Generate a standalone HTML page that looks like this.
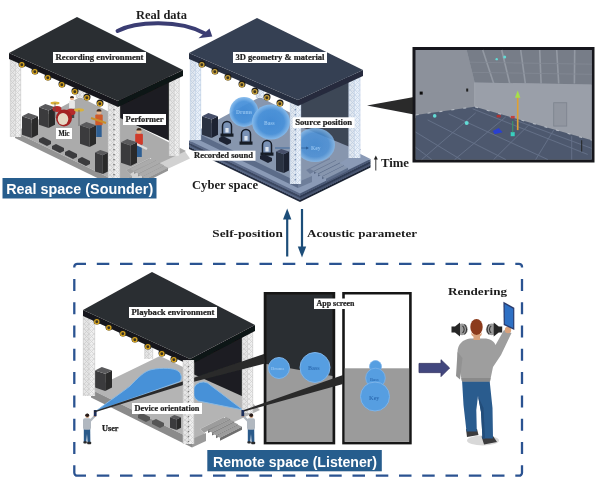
<!DOCTYPE html><html><head><meta charset="utf-8"><style>html,body{margin:0;padding:0;background:#fff}svg{display:block}</style></head><body>
<svg width="600" height="481" viewBox="0 0 600 481" font-family="'Liberation Serif', serif">
<defs>
<pattern id="tr1" width="5" height="5" patternUnits="userSpaceOnUse">
<rect width="5" height="5" fill="#efefef"/>
<path d="M0 0L5 5M5 0L0 5" stroke="#d3d3d3" stroke-width="0.8"/>
<path d="M0 0H5" stroke="#dcdcdc" stroke-width="0.8"/>
</pattern>
<pattern id="tr2" width="5" height="5" patternUnits="userSpaceOnUse">
<rect width="5" height="5" fill="#e9f0f9"/>
<path d="M0 0L5 5M5 0L0 5" stroke="#c6d5e8" stroke-width="0.8"/>
<path d="M0 0H5" stroke="#d0dcec" stroke-width="0.8"/>
</pattern>
<radialGradient id="bub" cx="50%" cy="50%" r="50%"><stop offset="0" stop-color="#3f8ad6"/><stop offset="0.7" stop-color="#4a92da"/><stop offset="1" stop-color="#86bbec"/></radialGradient>
<filter id="soft" x="-5%" y="-5%" width="110%" height="110%"><feGaussianBlur stdDeviation="0.45"/></filter>
</defs>
<rect width="600" height="481" fill="#fff"/>
<g filter="url(#soft)">
<g>
<polygon points="118.0,192.0 190.0,158.5 184.0,150.0 118.0,172.0" fill="#d2d2d2" />
<polygon points="15.0,132.0 80.0,97.0 186.0,151.0 160.0,163.0 150.0,158.0 126.0,170.0 132.0,176.0 118.0,182.0" fill="#ababab" />
<polygon points="15.0,132.0 118.0,182.0 118.0,188.0 15.0,138.0" fill="#949494" />
<polygon points="118.0,182.0 132.0,176.0 132.0,182.0 118.0,188.0" fill="#9f9f9f" />
<polygon points="126.0,170.0 150.0,158.0 150.0,162.0 130.0,174.0" fill="#9f9f9f" />
<polygon points="130.0,169.0 152.0,158.0 156.0,160.0 134.0,171.0" fill="#ababab" />
<polygon points="134.0,171.0 156.0,160.0 156.0,163.0 134.0,174.0" fill="#949494" />
<polygon points="134.0,171.6 156.0,160.6 160.0,162.6 138.0,173.6" fill="#ababab" />
<polygon points="138.0,173.6 160.0,162.6 160.0,165.6 138.0,176.6" fill="#949494" />
<polygon points="138.0,174.2 160.0,163.2 164.0,165.2 142.0,176.2" fill="#ababab" />
<polygon points="142.0,176.2 164.0,165.2 164.0,168.2 142.0,179.2" fill="#949494" />
<polygon points="142.0,176.8 164.0,165.8 168.0,167.8 146.0,178.8" fill="#ababab" />
<polygon points="146.0,178.8 168.0,167.8 168.0,170.8 146.0,181.8" fill="#949494" />
<rect x="76" y="40" width="8" height="58" fill="url(#tr1)"/><rect x="76" y="40" width="4.0" height="58" fill="#000" opacity="0.035"/><path d="M76.3 40V98M83.7 40V98M80.0 40V98" stroke="#cfcfcf" stroke-width="0.7" fill="none"/>
<polygon points="119.0,100.0 170.0,76.0 170.0,141.0 119.0,117.5" fill="#1d1f21" />
<polygon points="39.0,107.2 48.6,110.4 48.6,128.0 39.0,124.8" fill="#3b3b3d" /><polygon points="48.6,110.4 55.0,107.2 55.0,124.8 48.6,128.0" fill="#2a2a2c" /><polygon points="39.0,107.2 45.4,104.0 55.0,107.2 48.6,110.4" fill="#5a5a5c" />
<polygon points="22.0,116.2 31.6,119.4 31.6,138.0 22.0,134.8" fill="#3b3b3d" /><polygon points="31.6,119.4 38.0,116.2 38.0,134.8 31.6,138.0" fill="#2a2a2c" /><polygon points="22.0,116.2 28.4,113.0 38.0,116.2 31.6,119.4" fill="#5a5a5c" />
<rect x="69.8" y="108.1" width="4.4" height="9.9" fill="#444"/><rect x="69.1" y="100.4" width="5.8" height="8.4" rx="1" fill="#e8e8e8"/><circle cx="72" cy="98.2" r="2.0" fill="#e8b48c"/><path d="M70.0 98.0 a2.0 2.0 0 0 1 4.0 0z" fill="#3a2a20"/>
<ellipse cx="57" cy="109" rx="4.500" ry="3" fill="#b52b2b"/><ellipse cx="71" cy="112" rx="4.500" ry="3.200" fill="#b52b2b"/>
<ellipse cx="64" cy="118" rx="8" ry="8.500" fill="#a32020"/><ellipse cx="63" cy="119" rx="5.300" ry="6" fill="#e6d8c4"/>
<ellipse cx="79" cy="110" rx="5" ry="1.700" fill="#d9b13a"/><ellipse cx="55" cy="103" rx="4.500" ry="1.500" fill="#d9b13a"/>
<path d="M79 110V126M55 103V118" stroke="#555" stroke-width="0.7"/>
<rect x="96.2" y="124.4" width="5.5" height="12.6" fill="#2f5f93"/><rect x="95.3" y="114.6" width="7.4" height="10.6" rx="1" fill="#cf5a2a"/><circle cx="99" cy="111.8" r="2.5" fill="#e8b48c"/><path d="M96.5 111.5 a2.5 2.5 0 0 1 5.0 0z" fill="#3a2a20"/>
<path d="M91 118L106 123" stroke="#c98f2a" stroke-width="2"/>
<polygon points="80.0,125.2 89.6,128.4 89.6,147.0 80.0,143.8" fill="#3b3b3d" /><polygon points="89.6,128.4 96.0,125.2 96.0,143.8 89.6,147.0" fill="#2a2a2c" /><polygon points="80.0,125.2 86.4,122.0 96.0,125.2 89.6,128.4" fill="#5a5a5c" />
<polygon points="39.0,139.0 43.0,137.0 51.0,141.0 51.0,144.0 47.0,146.0 39.0,142.0" fill="#3a3a3c" />
<polygon points="52.0,146.0 56.0,144.0 64.0,148.0 64.0,151.0 60.0,153.0 52.0,149.0" fill="#3a3a3c" />
<polygon points="65.0,152.0 69.0,150.0 77.0,154.0 77.0,157.0 73.0,159.0 65.0,155.0" fill="#3a3a3c" />
<polygon points="78.0,159.0 82.0,157.0 90.0,161.0 90.0,164.0 86.0,166.0 78.0,162.0" fill="#3a3a3c" />
<polygon points="95.0,152.6 102.8,155.2 102.8,174.0 95.0,171.4" fill="#3b3b3d" /><polygon points="102.8,155.2 108.0,152.6 108.0,171.4 102.8,174.0" fill="#2a2a2c" /><polygon points="95.0,152.6 100.2,150.0 108.0,152.6 102.8,155.2" fill="#5a5a5c" />
<rect x="136.1" y="143.9" width="5.7" height="13.1" fill="#2f5f93"/><rect x="135.2" y="133.8" width="7.7" height="11.0" rx="1" fill="#d03a2a"/><circle cx="139" cy="130.9" r="2.6" fill="#e8b48c"/><path d="M136.4 130.6 a2.6 2.6 0 0 1 5.2 0z" fill="#3a2a20"/>
<path d="M128 140L147 149" stroke="#ddd" stroke-width="2.2"/>
<polygon points="121.0,142.2 130.6,145.4 130.6,166.0 121.0,162.8" fill="#3b3b3d" /><polygon points="130.6,145.4 137.0,142.2 137.0,162.8 130.6,166.0" fill="#2a2a2c" /><polygon points="121.0,142.2 127.4,139.0 137.0,142.2 130.6,145.4" fill="#5a5a5c" />
<rect x="10" y="56" width="11" height="81" fill="url(#tr1)"/><rect x="10" y="56" width="5.5" height="81" fill="#000" opacity="0.035"/><path d="M10.3 56V137M20.7 56V137M15.5 56V137" stroke="#cfcfcf" stroke-width="0.7" fill="none"/>
<rect x="169" y="74" width="10.5" height="82" fill="url(#tr1)"/><rect x="169" y="74" width="5.25" height="82" fill="#000" opacity="0.035"/><path d="M169.3 74V156M179.2 74V156M174.25 74V156" stroke="#cfcfcf" stroke-width="0.7" fill="none"/>
<rect x="108" y="103" width="12" height="78" fill="url(#tr1)"/><rect x="108" y="103" width="6.0" height="78" fill="#000" opacity="0.035"/><path d="M108.3 103V181M119.7 103V181M114.0 103V181" stroke="#cfcfcf" stroke-width="0.7" fill="none"/><path d="M114.0 109V179" stroke="#7a7a7a" stroke-width="1.5" stroke-dasharray="1.3 3.7" fill="none"/>
<polygon points="9.0,53.0 118.0,101.0 118.0,107.0 9.0,59.0" fill="#17191b" />
<polygon points="118.0,101.0 183.0,70.0 183.0,76.0 118.0,107.0" fill="#101214" />
<polygon points="9.0,53.0 77.0,17.0 183.0,70.0 118.0,101.0" fill="#2a2d30" />
<circle cx="22" cy="64" r="3.5" fill="#1c1c1c"/><circle cx="21.8" cy="64.7" r="2.1" fill="#3a3424" stroke="#d8a520" stroke-width="1.3"/>
<circle cx="35" cy="71" r="3.5" fill="#1c1c1c"/><circle cx="34.8" cy="71.7" r="2.1" fill="#3a3424" stroke="#d8a520" stroke-width="1.3"/>
<circle cx="48" cy="77" r="3.5" fill="#1c1c1c"/><circle cx="47.8" cy="77.7" r="2.1" fill="#3a3424" stroke="#d8a520" stroke-width="1.3"/>
<circle cx="62" cy="84" r="3.5" fill="#1c1c1c"/><circle cx="61.8" cy="84.7" r="2.1" fill="#3a3424" stroke="#d8a520" stroke-width="1.3"/>
<circle cx="75" cy="91" r="3.5" fill="#1c1c1c"/><circle cx="74.8" cy="91.7" r="2.1" fill="#3a3424" stroke="#d8a520" stroke-width="1.3"/>
<circle cx="87" cy="97" r="3.5" fill="#1c1c1c"/><circle cx="86.8" cy="97.7" r="2.1" fill="#3a3424" stroke="#d8a520" stroke-width="1.3"/>
<circle cx="100" cy="103" r="3.5" fill="#1c1c1c"/><circle cx="99.8" cy="103.7" r="2.1" fill="#3a3424" stroke="#d8a520" stroke-width="1.3"/>
<rect x="53" y="52" width="93" height="11" fill="#fff"/><text x="55.5" y="60.1" font-size="7.4" font-weight="bold" fill="#222" stroke="#222" stroke-width="0.2" textLength="88.0" lengthAdjust="spacingAndGlyphs">Recording environment</text>
<rect x="56" y="128" width="16" height="11" fill="#fff"/><text x="58.5" y="136.1" font-size="7.4" font-weight="bold" fill="#222" stroke="#222" stroke-width="0.2" textLength="11.0" lengthAdjust="spacingAndGlyphs">Mic</text>
<rect x="123" y="114" width="43" height="11" fill="#fff"/><text x="125.5" y="122.1" font-size="7.4" font-weight="bold" fill="#222" stroke="#222" stroke-width="0.2" textLength="38.0" lengthAdjust="spacingAndGlyphs">Performer</text>
</g>
<g transform="translate(180,0)">
<polygon points="9.0,146.8 120.0,199.8 120.0,202.1 9.0,149.1" fill="#222b3e" />
<polygon points="120.0,199.8 190.5,165.3 190.5,167.6 120.0,202.1" fill="#1a2233" />
<polygon points="9.0,146.8 84.0,112.3 190.5,165.3 120.0,199.8" fill="#39455e" />
<polygon points="9.0,144.7 120.0,197.7 120.0,200.0 9.0,147.0" fill="#566583" />
<polygon points="120.0,197.7 190.5,163.2 190.5,165.5 120.0,200.0" fill="#46536f" />
<polygon points="9.0,144.7 84.0,110.2 190.5,163.2 120.0,197.7" fill="#7787a5" />
<polygon points="9.0,142.6 120.0,195.6 120.0,197.9 9.0,144.9" fill="#3b4761" />
<polygon points="120.0,195.6 190.5,161.1 190.5,163.4 120.0,197.9" fill="#2f3a52" />
<polygon points="9.0,142.6 84.0,108.1 190.5,161.1 120.0,195.6" fill="#55627e" />
<polygon points="9.0,140.5 120.0,193.5 120.0,195.8 9.0,142.8" fill="#5b6a88" />
<polygon points="120.0,193.5 190.5,159.0 190.5,161.3 120.0,195.8" fill="#4a5874" />
<polygon points="9.0,140.5 84.0,106.0 190.5,159.0 120.0,193.5" fill="#8a9ab6" />
<polygon points="15.0,132.0 80.0,97.0 181.0,149.5 160.0,163.0 150.0,158.0 126.0,170.0 132.0,176.0 118.0,182.0" fill="#8796ae" />
<polygon points="15.0,132.0 118.0,182.0 118.0,188.0 15.0,138.0" fill="#5c6c89" />
<polygon points="118.0,182.0 132.0,176.0 132.0,182.0 118.0,188.0" fill="#6e7e9a" />
<polygon points="126.0,170.0 150.0,158.0 150.0,162.0 130.0,174.0" fill="#6e7e9a" />
<polygon points="130.0,169.0 152.0,158.0 156.0,160.0 134.0,171.0" fill="#8796ae" />
<polygon points="134.0,171.0 156.0,160.0 156.0,163.0 134.0,174.0" fill="#5c6c89" />
<polygon points="134.0,171.6 156.0,160.6 160.0,162.6 138.0,173.6" fill="#8796ae" />
<polygon points="138.0,173.6 160.0,162.6 160.0,165.6 138.0,176.6" fill="#5c6c89" />
<polygon points="138.0,174.2 160.0,163.2 164.0,165.2 142.0,176.2" fill="#8796ae" />
<polygon points="142.0,176.2 164.0,165.2 164.0,168.2 142.0,179.2" fill="#5c6c89" />
<polygon points="142.0,176.8 164.0,165.8 168.0,167.8 146.0,178.8" fill="#8796ae" />
<polygon points="146.0,178.8 168.0,167.8 168.0,170.8 146.0,181.8" fill="#5c6c89" />
<rect x="76" y="40" width="8" height="58" fill="url(#tr2)"/><rect x="76" y="40" width="4.0" height="58" fill="#000" opacity="0.035"/><path d="M76.3 40V98M83.7 40V98M80.0 40V98" stroke="#c3d2e6" stroke-width="0.7" fill="none"/>
<polygon points="119.0,100.0 170.0,76.0 170.0,147.0 119.0,126.0" fill="#3e4657" />
<polygon points="22.0,116.2 31.6,119.4 31.6,138.0 22.0,134.8" fill="#2a3142" /><polygon points="31.6,119.4 38.0,116.2 38.0,134.8 31.6,138.0" fill="#1c2231" /><polygon points="22.0,116.2 28.4,113.0 38.0,116.2 31.6,119.4" fill="#46506a" />
<ellipse cx="64" cy="112" rx="14.5" ry="15" fill="url(#bub)" opacity="0.95"/>
<ellipse cx="91" cy="122" rx="19" ry="17.5" fill="url(#bub)" opacity="0.95"/>
<ellipse cx="135" cy="145" rx="20" ry="17" fill="url(#bub)" opacity="0.82"/>
<text x="56" y="114" font-size="5.5" fill="#8fc0ee" font-weight="bold">Drums</text>
<text x="84" y="125" font-size="5.5" fill="#8fc0ee" font-weight="bold">Bass</text>
<text x="131" y="150" font-size="5.5" fill="#8fc0ee" font-weight="bold">Key</text>
<path d="M42.5 135V126a4.5 4.5 0 0 1 9 0V135Z" fill="#6f8fbd" fill-opacity="0.55" stroke="#141a26" stroke-width="1.5"/><rect x="40.5" y="133.5" width="13" height="3.2" fill="#141a26"/><rect x="45.4" y="128" width="3.2" height="4.5" fill="#dfe6f0"/>
<path d="M61.5 143V134a4.5 4.5 0 0 1 9 0V143Z" fill="#6f8fbd" fill-opacity="0.55" stroke="#141a26" stroke-width="1.5"/><rect x="59.5" y="141.5" width="13" height="3.2" fill="#141a26"/><rect x="64.4" y="136" width="3.2" height="4.5" fill="#dfe6f0"/>
<path d="M82.5 154V145a4.5 4.5 0 0 1 9 0V154Z" fill="#6f8fbd" fill-opacity="0.55" stroke="#141a26" stroke-width="1.5"/><rect x="80.5" y="152.5" width="13" height="3.2" fill="#141a26"/><rect x="85.4" y="147" width="3.2" height="4.5" fill="#dfe6f0"/>
<polygon points="39.0,138.0 43.0,136.0 51.0,140.0 51.0,143.0 47.0,145.0 39.0,141.0" fill="#1d2433" />
<polygon points="80.0,156.0 84.0,154.0 92.0,158.0 92.0,161.0 88.0,163.0 80.0,159.0" fill="#1d2433" />
<path d="M95 148H128" stroke="#2d5f99" stroke-width="0.8"/><path d="M126 146.5l3 1.5l-3 1.5z" fill="#2d5f99"/>
<polygon points="96.0,151.6 103.8,154.2 103.8,173.0 96.0,170.4" fill="#2a3142" /><polygon points="103.8,154.2 109.0,151.6 109.0,170.4 103.8,173.0" fill="#1c2231" /><polygon points="96.0,151.6 101.2,149.0 109.0,151.6 103.8,154.2" fill="#46506a" />
<rect x="10" y="56" width="11" height="84" fill="url(#tr2)"/><rect x="10" y="56" width="5.5" height="84" fill="#000" opacity="0.035"/><path d="M10.3 56V140M20.7 56V140M15.5 56V140" stroke="#c3d2e6" stroke-width="0.7" fill="none"/>
<rect x="168.7" y="74" width="11.5" height="84" fill="url(#tr2)"/><rect x="168.7" y="74" width="5.75" height="84" fill="#000" opacity="0.035"/><path d="M169.0 74V158M179.89999999999998 74V158M174.45 74V158" stroke="#c3d2e6" stroke-width="0.7" fill="none"/>
<rect x="110" y="103" width="11" height="81" fill="url(#tr2)"/><rect x="110" y="103" width="5.5" height="81" fill="#000" opacity="0.035"/><path d="M110.3 103V184M120.7 103V184M115.5 103V184" stroke="#c3d2e6" stroke-width="0.7" fill="none"/><path d="M115.5 109V182" stroke="#7d93b5" stroke-width="1.5" stroke-dasharray="1.3 3.7" fill="none"/>
<polygon points="9.0,53.0 118.0,100.0 118.0,106.0 9.0,59.0" fill="#262f41" />
<polygon points="118.0,100.0 183.0,70.0 183.0,76.0 118.0,106.0" fill="#252c3d" />
<polygon points="9.0,53.0 77.0,18.0 183.0,70.0 118.0,100.0" fill="#363f52" />
<circle cx="22" cy="64" r="3.5" fill="#1c1c1c"/><circle cx="21.8" cy="64.7" r="2.1" fill="#3a3424" stroke="#c9a13a" stroke-width="1.3"/>
<circle cx="35" cy="71" r="3.5" fill="#1c1c1c"/><circle cx="34.8" cy="71.7" r="2.1" fill="#3a3424" stroke="#c9a13a" stroke-width="1.3"/>
<circle cx="48" cy="77" r="3.5" fill="#1c1c1c"/><circle cx="47.8" cy="77.7" r="2.1" fill="#3a3424" stroke="#c9a13a" stroke-width="1.3"/>
<circle cx="62" cy="84" r="3.5" fill="#1c1c1c"/><circle cx="61.8" cy="84.7" r="2.1" fill="#3a3424" stroke="#c9a13a" stroke-width="1.3"/>
<circle cx="75" cy="91" r="3.5" fill="#1c1c1c"/><circle cx="74.8" cy="91.7" r="2.1" fill="#3a3424" stroke="#c9a13a" stroke-width="1.3"/>
<circle cx="87" cy="97" r="3.5" fill="#1c1c1c"/><circle cx="86.8" cy="97.7" r="2.1" fill="#3a3424" stroke="#c9a13a" stroke-width="1.3"/>
<circle cx="100" cy="103" r="3.5" fill="#1c1c1c"/><circle cx="99.8" cy="103.7" r="2.1" fill="#3a3424" stroke="#c9a13a" stroke-width="1.3"/>
<rect x="53" y="52" width="94" height="11" fill="#fff"/><text x="55.5" y="60.1" font-size="7.4" font-weight="bold" fill="#222" stroke="#222" stroke-width="0.2" textLength="89.0" lengthAdjust="spacingAndGlyphs">3D geometry &amp; material</text>
<rect x="112.7" y="117.3" width="62" height="10.7" fill="#fff"/><text x="115.2" y="125.2" font-size="7.4" font-weight="bold" fill="#222" stroke="#222" stroke-width="0.2" textLength="57.0" lengthAdjust="spacingAndGlyphs">Source position</text>
<rect x="11.5" y="150.7" width="64" height="10" fill="#fff"/><text x="14.0" y="158.1" font-size="7.4" font-weight="bold" fill="#222" stroke="#222" stroke-width="0.2" textLength="59.0" lengthAdjust="spacingAndGlyphs">Recorded sound</text>
</g>
<text x="136" y="19" font-size="12.5" font-weight="bold" fill="#1d1d1d" textLength="51" lengthAdjust="spacingAndGlyphs">Real data</text>
<path d="M117.500 31C136 21 180 19.500 205 33.500" fill="none" stroke="#3b3e73" stroke-width="3.800" stroke-linecap="round"/><path d="M212.300 36.500L209.500 28.500L198.500 38.200Z" fill="#3b3e73"/>
<text x="192" y="189.200" font-size="11.5" font-weight="bold" fill="#1d1d1d" textLength="66" lengthAdjust="spacingAndGlyphs">Cyber space</text>
<text x="381" y="167" font-size="11.5" font-weight="bold" fill="#1d1d1d" textLength="28" lengthAdjust="spacingAndGlyphs">Time</text>
<path d="M375.800 170.500V158" stroke="#222" stroke-width="0.9"/><path d="M373.800 159.500L375.800 155.500L377.800 159.500Z" fill="#222"/>
<rect x="2.500" y="178" width="154" height="20.500" fill="#285d8d"/>
<text x="6.200" y="193.500" font-family="'Liberation Sans', sans-serif" font-size="15.5" font-weight="bold" fill="#fff" textLength="147" lengthAdjust="spacingAndGlyphs">Real space (Sounder)</text>
<path d="M367 105.500L414 97V114.500Z" fill="#2a2a2c"/>
<rect x="412.500" y="47" width="182" height="115.500" fill="#17181a"/>
<g transform="translate(-0.3,50) scale(1,1.014) translate(0,-50)">
<rect x="416" y="50" width="176" height="108" fill="#8a909b"/>
<polygon points="467.0,50.0 592.0,50.0 592.0,84.0 475.0,82.0" fill="#777d88" />
<path d="M483 50L494 83" stroke="#9399a3" stroke-width="1.6"/>
<path d="M502 50L510 83" stroke="#9399a3" stroke-width="1.6"/>
<path d="M521 50L525.6 83" stroke="#9399a3" stroke-width="1.6"/>
<path d="M540 50L541.4 83" stroke="#9399a3" stroke-width="1.6"/>
<path d="M557 50L559 83" stroke="#9399a3" stroke-width="1.6"/>
<path d="M575 50L574.7 83" stroke="#9399a3" stroke-width="1.6"/>
<path d="M470 62L592 64M472 72L592 74" stroke="#838994" stroke-width="0.8"/>
<polygon points="475.0,82.0 592.0,84.0 592.0,139.0 475.0,106.0" fill="#9a9fa9" />
<polygon points="416.0,50.0 467.0,50.0 475.0,82.0 475.0,106.0 416.0,117.0" fill="#8c919b" />
<path d="M475 82V106" stroke="#a5aab3" stroke-width="0.8"/>
<polygon points="416.0,114.0 475.0,106.0 592.0,139.0 592.0,158.0 416.0,158.0" fill="#4e596e" />
<path d="M422 158L476 112" stroke="#66728a" stroke-width="0.9"/>
<path d="M455 158L506 116" stroke="#66728a" stroke-width="0.9"/>
<path d="M494 158L530 123" stroke="#66728a" stroke-width="0.9"/>
<path d="M536 158L554 129" stroke="#66728a" stroke-width="0.9"/>
<path d="M572 158L572 135" stroke="#66728a" stroke-width="0.9"/>
<path d="M428 119L506 158" stroke="#66728a" stroke-width="0.9"/>
<path d="M449 113L548 158" stroke="#66728a" stroke-width="0.9"/>
<path d="M473 108L588 153" stroke="#66728a" stroke-width="0.9"/>
<path d="M416 131L461 158" stroke="#66728a" stroke-width="0.9"/>
<path d="M515 119L592 147" stroke="#66728a" stroke-width="0.9"/>
<path d="M416 146L432 158" stroke="#66728a" stroke-width="0.9"/>
<path d="M416 114L475 106L592 139" stroke="#c9ced6" stroke-width="1" stroke-dasharray="3 9" opacity="0.8" fill="none"/>
<path d="M518 129V96" stroke="#e0a030" stroke-width="1.6"/><path d="M515.300 97L518 90L520.700 97Z" fill="#a6e04a"/>
<path d="M493 130l6 -3l4 4l-8 2z" fill="#2a3fd0"/><rect x="511" y="131" width="4" height="4" fill="#38d0c0"/><path d="M513 131V120" stroke="#3a9a6a" stroke-width="1"/>
<circle cx="467" cy="122" r="2" fill="#63dcd6"/><circle cx="435" cy="115" r="1.8" fill="#63dcd6"/><circle cx="505" cy="57" r="1.5" fill="#63dcd6"/><circle cx="497" cy="59" r="1.2" fill="#63dcd6"/><rect x="497" y="114" width="4" height="2.500" fill="#b03030"/><rect x="511" y="115" width="4" height="2.500" fill="#c04040"/>
<rect x="420" y="91" width="3" height="3" fill="#111"/><rect x="466.500" y="88" width="2" height="3" fill="#222"/>
<rect x="554" y="102" width="13" height="23" fill="#9196a0" stroke="#7f8590" stroke-width="0.9"/>
<path d="M582 139V150" stroke="#222" stroke-width="1"/>
</g>
<path d="M287.200 256.500V217" stroke="#1f4e79" stroke-width="2.200"/><path d="M283 219.500L287.200 208.500L291.400 219.500Z" fill="#1f4e79"/>
<path d="M302 209V248" stroke="#1f4e79" stroke-width="2.200"/><path d="M297.800 246.500L302 257.500L306.200 246.500Z" fill="#1f4e79"/>
<text x="212.300" y="236.500" font-size="11.2" font-weight="bold" fill="#1d1d1d" textLength="70.500" lengthAdjust="spacingAndGlyphs">Self-position</text>
<text x="307" y="236.500" font-size="11.2" font-weight="bold" fill="#1d1d1d" textLength="110" lengthAdjust="spacingAndGlyphs">Acoustic parameter</text>
<path d="M96.8 263.8h12.5M96.8 475.7h12.5M120.0 263.8h12.5M120.0 475.7h12.5M143.2 263.8h12.5M143.2 475.7h12.5M166.5 263.8h12.5M166.5 475.7h12.5M189.8 263.8h12.5M189.8 475.7h12.5M213.0 263.8h12.5M213.0 475.7h12.5M236.2 263.8h12.5M236.2 475.7h12.5M259.5 263.8h12.5M259.5 475.7h12.5M282.8 263.8h12.5M282.8 475.7h12.5M306.0 263.8h12.5M306.0 475.7h12.5M329.2 263.8h12.5M329.2 475.7h12.5M352.5 263.8h12.5M352.5 475.7h12.5M375.8 263.8h12.5M375.8 475.7h12.5M399.0 263.8h12.5M399.0 475.7h12.5M422.2 263.8h12.5M422.2 475.7h12.5M445.5 263.8h12.5M445.5 475.7h12.5M468.8 263.8h12.5M468.8 475.7h12.5M492.0 263.8h12.5M492.0 475.7h12.5M74.3 278.9v12M522.0 278.9v12M74.3 302.2v12M522.0 302.2v12M74.3 325.5v12M522.0 325.5v12M74.3 348.8v12M522.0 348.8v12M74.3 372.1v12M522.0 372.1v12M74.3 395.4v12M522.0 395.4v12M74.3 418.7v12M522.0 418.7v12M74.3 442.0v12M522.0 442.0v12M74.3 267.5V266.8a3 3 0 0 1 3 -3H86M515.3 263.8H519.0a3 3 0 0 1 3 3V267.5M74.3 465.3V472.7a3 3 0 0 0 3 3H86M515.3 475.7H519.0a3 3 0 0 0 3 -3V465.3" fill="none" stroke="#2b5391" stroke-width="2.3"/>
<g transform="translate(74,259)">
<polygon points="17.0,130.5 86.0,97.0 172.0,138.0 186.0,151.0 160.0,163.0 150.0,158.0 126.0,170.0 132.0,176.0 118.0,180.0" fill="#b4b4b4" />
<polygon points="17.0,130.5 118.0,180.0 118.0,188.5 17.0,138.5" fill="#8b8b8b" />
<polygon points="118.0,180.0 132.0,174.0 132.0,182.0 118.0,188.5" fill="#9a9a9a" />
<polygon points="126.0,170.0 150.0,158.0 150.0,162.0 130.0,174.0" fill="#9f9f9f" />
<polygon points="130.0,169.0 152.0,158.0 156.0,160.0 134.0,171.0" fill="#9c9c9c" />
<polygon points="134.0,171.0 156.0,160.0 156.0,163.0 134.0,174.0" fill="#6e6e6e" />
<polygon points="134.0,171.6 156.0,160.6 160.0,162.6 138.0,173.6" fill="#9c9c9c" />
<polygon points="138.0,173.6 160.0,162.6 160.0,165.6 138.0,176.6" fill="#6e6e6e" />
<polygon points="138.0,174.2 160.0,163.2 164.0,165.2 142.0,176.2" fill="#9c9c9c" />
<polygon points="142.0,176.2 164.0,165.2 164.0,168.2 142.0,179.2" fill="#6e6e6e" />
<polygon points="142.0,176.8 164.0,165.8 168.0,167.8 146.0,178.8" fill="#9c9c9c" />
<polygon points="146.0,178.8 168.0,167.8 168.0,170.8 146.0,181.8" fill="#6e6e6e" />
<rect x="70.5" y="60" width="8.5" height="40" fill="url(#tr1)"/><rect x="70.5" y="60" width="4.25" height="40" fill="#000" opacity="0.035"/><path d="M70.8 60V100M78.7 60V100M74.75 60V100" stroke="#cfcfcf" stroke-width="0.7" fill="none"/>
<polygon points="119.0,100.0 170.0,76.0 170.0,138.0 119.0,115.0" fill="#1d1f21" />
<polygon points="21.0,111.4 31.2,114.8 31.2,132.0 21.0,128.6" fill="#3b3b3d" /><polygon points="31.2,114.8 38.0,111.4 38.0,128.6 31.2,132.0" fill="#2a2a2c" /><polygon points="21.0,111.4 27.8,108.0 38.0,111.4 31.2,114.8" fill="#5a5a5c" />
<path d="M21.500 152.500C35 142 50 132 56 127C64 119 70 112 78 110.500C88 108.500 100 109 104 112C108 115 108 120 106 122.500Z" fill="#4290da" stroke="#86b9e6" stroke-width="1" opacity="0.95"/>
<path d="M169 151L124.500 142A10 10 0 0 1 133.500 124Z" fill="#4290da" stroke="#86b9e6" stroke-width="1" opacity="0.95"/>
<polygon points="78.0,162.0 82.0,160.0 90.0,164.0 90.0,167.0 86.0,169.0 78.0,165.0" fill="#555" />
<polygon points="64.0,156.0 68.0,154.0 76.0,158.0 76.0,161.0 72.0,163.0 64.0,159.0" fill="#555" />
<polygon points="96.0,158.2 102.6,160.4 102.6,171.0 96.0,168.8" fill="#3b3b3d" /><polygon points="102.6,160.4 107.0,158.2 107.0,168.8 102.6,171.0" fill="#2a2a2c" /><polygon points="96.0,158.2 100.4,156.0 107.0,158.2 102.6,160.4" fill="#5a5a5c" />
<rect x="9" y="55" width="12" height="82" fill="url(#tr1)"/><rect x="9" y="55" width="6.0" height="82" fill="#000" opacity="0.035"/><path d="M9.3 55V137M20.7 55V137M15.0 55V137" stroke="#cfcfcf" stroke-width="0.7" fill="none"/>
<rect x="168" y="70" width="11" height="84" fill="url(#tr1)"/><rect x="168" y="70" width="5.5" height="84" fill="#000" opacity="0.035"/><path d="M168.3 70V154M178.7 70V154M173.5 70V154" stroke="#cfcfcf" stroke-width="0.7" fill="none"/>
<rect x="109" y="101" width="11" height="84" fill="url(#tr1)"/><rect x="109" y="101" width="5.5" height="84" fill="#000" opacity="0.035"/><path d="M109.3 101V185M119.7 101V185M114.5 101V185" stroke="#cfcfcf" stroke-width="0.7" fill="none"/><path d="M114.5 107V183" stroke="#7a7a7a" stroke-width="1.5" stroke-dasharray="1.3 3.7" fill="none"/>
<polygon points="9.0,51.0 116.0,100.0 116.0,106.0 9.0,57.0" fill="#17191b" />
<polygon points="116.0,100.0 181.0,66.0 181.0,72.0 116.0,106.0" fill="#101214" />
<polygon points="9.0,51.0 78.0,13.0 181.0,66.0 116.0,100.0" fill="#2a2d30" />
<circle cx="23" cy="62" r="3.5" fill="#1c1c1c"/><circle cx="22.8" cy="62.7" r="2.1" fill="#3a3424" stroke="#d8a520" stroke-width="1.3"/>
<circle cx="35" cy="68" r="3.5" fill="#1c1c1c"/><circle cx="34.8" cy="68.7" r="2.1" fill="#3a3424" stroke="#d8a520" stroke-width="1.3"/>
<circle cx="49" cy="74" r="3.5" fill="#1c1c1c"/><circle cx="48.8" cy="74.7" r="2.1" fill="#3a3424" stroke="#d8a520" stroke-width="1.3"/>
<circle cx="61" cy="80" r="3.5" fill="#1c1c1c"/><circle cx="60.8" cy="80.7" r="2.1" fill="#3a3424" stroke="#d8a520" stroke-width="1.3"/>
<circle cx="74" cy="87" r="3.5" fill="#1c1c1c"/><circle cx="73.8" cy="87.7" r="2.1" fill="#3a3424" stroke="#d8a520" stroke-width="1.3"/>
<circle cx="88" cy="94" r="3.5" fill="#1c1c1c"/><circle cx="87.8" cy="94.7" r="2.1" fill="#3a3424" stroke="#d8a520" stroke-width="1.3"/>
<circle cx="100" cy="100" r="3.5" fill="#1c1c1c"/><circle cx="99.8" cy="100.7" r="2.1" fill="#3a3424" stroke="#d8a520" stroke-width="1.3"/>
<rect x="55" y="48" width="88" height="11" fill="#fff"/><text x="57.5" y="56.1" font-size="7.4" font-weight="bold" fill="#222" stroke="#222" stroke-width="0.2" textLength="83.0" lengthAdjust="spacingAndGlyphs">Playback environment</text>
</g>
<path d="M83.8 429H90.2L90.4 442.500H87.6L87 434L86.2 442.500H83.8Z" fill="#2b5a8a"/><rect x="83.4" y="441.300" width="3.400" height="2.200" rx="0.8" fill="#2a2a2c"/><rect x="87.2" y="441.800" width="4" height="2.400" rx="0.8" fill="#2a2a2c"/><rect x="83" y="418.300" width="8" height="11.500" rx="1.800" fill="#b1b8c0"/><path d="M90 421L94.8 416" stroke="#b1b8c0" stroke-width="2.200" stroke-linecap="round"/><circle cx="94.8" cy="416" r="1.1" fill="#d9a27c"/><circle cx="87.3" cy="415.900" r="2" fill="#c99a78"/><path d="M85.2 416.300a2.100 2.100 0 0 1 4.200 -0.8c-1.500 -0.600 -3 -0.300 -4.200 0.800z" fill="#2a1f1a"/><circle cx="87.3" cy="415.200" r="1.700" fill="#2a1f1a"/><rect x="93.8" y="410" width="2.800" height="6.200" rx="0.5" fill="#1f2f5a"/>
<path d="M247.8 429H254.2L254.4 442.500H251.6L251 434L250.2 442.500H247.8Z" fill="#2b5a8a"/><rect x="247.4" y="441.300" width="3.400" height="2.200" rx="0.8" fill="#2a2a2c"/><rect x="251.2" y="441.800" width="4" height="2.400" rx="0.8" fill="#2a2a2c"/><rect x="247" y="418.300" width="8" height="11.500" rx="1.800" fill="#b1b8c0"/><path d="M248 421L243.2 416" stroke="#b1b8c0" stroke-width="2.200" stroke-linecap="round"/><circle cx="243.2" cy="416" r="1.1" fill="#d9a27c"/><circle cx="251.3" cy="415.900" r="2" fill="#c99a78"/><path d="M249.2 416.300a2.100 2.100 0 0 1 4.200 -0.8c-1.500 -0.600 -3 -0.300 -4.200 0.800z" fill="#2a1f1a"/><circle cx="251.3" cy="415.200" r="1.700" fill="#2a1f1a"/><rect x="241.4" y="410" width="2.800" height="6.200" rx="0.5" fill="#1f2f5a"/>
<rect x="263.700" y="292" width="71.500" height="152.400" fill="#161616"/>
<rect x="266.500" y="294.500" width="66" height="147.400" fill="#2c2f32"/>
<polygon points="266.5,364.0 332.5,376.0 332.5,441.9 266.5,441.9" fill="#9b9b9b" />
<rect x="342.200" y="292" width="69.500" height="152.400" fill="#161616"/>
<rect x="344.800" y="294.500" width="64.300" height="147.400" fill="#fff"/>
<rect x="344.800" y="368.300" width="64.300" height="73.600" fill="#9b9b9b"/>
<circle cx="279" cy="368" r="10.500" fill="#569ee1" stroke="#7db4ea" stroke-width="1"/><circle cx="315" cy="367.500" r="15" fill="#569ee1" stroke="#7db4ea" stroke-width="1"/>
<text x="271" y="370" font-size="4.5" fill="#8fc0ee" font-weight="bold">Drums</text><text x="308" y="370" font-size="6" fill="#2f6fb5" font-weight="bold">Bass</text>
<circle cx="375.500" cy="366.500" r="6" fill="#569ee1" stroke="#7db4ea" stroke-width="0.8"/><circle cx="375.500" cy="378" r="9.800" fill="#569ee1" stroke="#7db4ea" stroke-width="0.8"/><circle cx="375" cy="396.500" r="14.500" fill="#569ee1" stroke="#7db4ea" stroke-width="1"/>
<text x="369" y="399.500" font-size="6" fill="#2f6fb5" font-weight="bold">Key</text><text x="370" y="381" font-size="4.5" fill="#2f6fb5" font-weight="bold">Bass</text>
<polygon points="94.0,411.3 193.0,378.0 264.0,354.0 265.0,363.5 193.0,382.0 94.0,412.5" fill="#2a2a2c" />
<rect x="183" y="360" width="11" height="84" fill="url(#tr1)"/><rect x="183" y="360" width="5.5" height="84" fill="#000" opacity="0.035"/><path d="M183.3 360V444M193.7 360V444M188.5 360V444" stroke="#cfcfcf" stroke-width="0.7" fill="none"/><path d="M188.5 366V442" stroke="#7a7a7a" stroke-width="1.5" stroke-dasharray="1.3 3.7" fill="none"/>
<polygon points="244.0,410.0 343.0,375.0 343.0,384.0 244.0,411.5" fill="#2a2a2c" />
<rect x="314" y="298.5" width="43" height="10.5" fill="#fff"/><text x="316.5" y="306.3" font-size="7.4" font-weight="bold" fill="#222" stroke="#222" stroke-width="0.2" textLength="38.0" lengthAdjust="spacingAndGlyphs">App screen</text>
<rect x="132" y="403" width="70" height="11" fill="#fff"/><text x="134.5" y="411.1" font-size="7.4" font-weight="bold" fill="#222" stroke="#222" stroke-width="0.2" textLength="65.0" lengthAdjust="spacingAndGlyphs">Device orientation</text>
<text x="102" y="431" font-size="7.6" font-weight="bold" fill="#222" stroke="#222" stroke-width="0.25" textLength="16.5" lengthAdjust="spacingAndGlyphs">User</text>
<path d="M419 363.400H441V359.700L449.600 368L441 376.600V372.600H419Z" fill="#43467e" stroke="#2f305f" stroke-width="0.8" stroke-linejoin="round"/>
<text x="448" y="295.300" font-size="11" font-weight="bold" fill="#1d1d1d" textLength="59" lengthAdjust="spacingAndGlyphs">Rendering</text>
<ellipse cx="483" cy="440.500" rx="16" ry="5" fill="#d8d8d8"/>
<path d="M466 429L477 429L478.500 435L467 437Z" fill="#3a3a3c"/><path d="M481.500 436.500L493 436L497 442L484 444.500Z" fill="#3a3a3c"/>
<path d="M462 379.500L463.500 405L466.500 431.500H476.800L476.300 410L478 396L481 412L482.500 438.500H493L492.500 408L489.500 379.500Z" fill="#2b5b8e"/>
<path d="M478 396L481 412L482.500 438.500H485L483.500 408Z" fill="#234d7a"/>
<path d="M457.500 352C457.500 344 463 339.500 470 338.500H484C490 338.500 494 341 495.500 345L504 330L511.500 333L501 355L493 367L490 381.500H462C460 372 457.500 362 457.500 352Z" fill="#9e9e9e"/>
<path d="M457.500 352L456 376L460 379.500L462.500 358Z" fill="#929292"/>
<path d="M462 381.500H490L490.500 378H461.300Z" fill="#8a8a8a"/>
<rect x="473.500" y="332" width="6.500" height="8" fill="#d9a27c"/>
<ellipse cx="476.500" cy="327" rx="6.200" ry="8" fill="#8c3b1c"/>
<path d="M471 332C472.500 336 480.500 336 482 332L481.500 335C480 338 473.500 338 471.500 335Z" fill="#d9a27c"/>
<circle cx="508" cy="330" r="3.200" fill="#d9a27c"/>
<polygon points="503.4,301.7 514.3,307.7 514.3,330.0 503.7,325.0" fill="#2b3a6b" />
<polygon points="504.6,304.0 513.2,308.8 513.2,328.0 504.8,324.0" fill="#2d6fc4" />
<g transform="translate(459,329.400) scale(1,1)"><circle cx="3" cy="0" r="5.800" fill="#9a9a9a"/><path d="M3.500 -3.500A4.500 4.500 0 0 1 3.500 3.500M5.500 -5A7 7 0 0 1 5.500 5" fill="none" stroke="#333" stroke-width="1.100"/><path d="M-7.500 -3H-4L1 -7V7L-4 3H-7.500Z" fill="#262626"/></g>
<g transform="translate(494.7,329.400) scale(-1,1)"><circle cx="3" cy="0" r="5.800" fill="#9a9a9a"/><path d="M3.500 -3.500A4.500 4.500 0 0 1 3.500 3.500M5.500 -5A7 7 0 0 1 5.500 5" fill="none" stroke="#333" stroke-width="1.100"/><path d="M-7.500 -3H-4L1 -7V7L-4 3H-7.500Z" fill="#262626"/></g>
<rect x="207.300" y="450" width="174.500" height="21.300" fill="#285d8d"/>
<text x="213" y="466.500" font-family="'Liberation Sans', sans-serif" font-size="15.5" font-weight="bold" fill="#fff" textLength="164" lengthAdjust="spacingAndGlyphs">Remote space (Listener)</text>
</g></svg>
</body></html>
